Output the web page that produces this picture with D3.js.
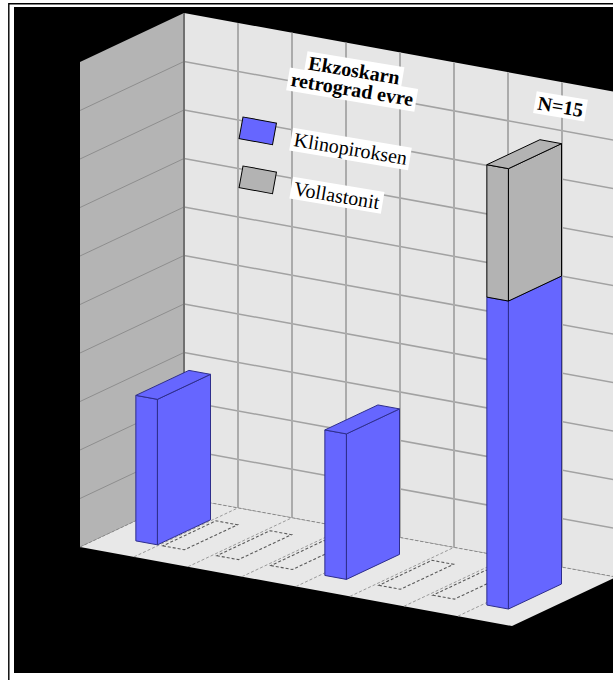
<!DOCTYPE html>
<html>
<head>
<meta charset="utf-8">
<script src="https://cdn.jsdelivr.net/npm/d3@7"></script>
<style>
  html, body { margin: 0; padding: 0; background: #fff; }
  svg { display: block; }
</style>
</head>
<body>
<script>
// ---- data -------------------------------------------------------------
// sample slots along the category axis; null = no sample, 0 = empty slot
const categories = d3.range(1, 17).map(String);
const klinopiroksen = [null, 30, 0, null, 0, null, 0, null, 30, null, 0, null, 0, null, 63.5, null];
const vollastonit   = [null, 0, 0, null, 0, null, 0, null, 0, null, 0, null, 0, null, 27.3, null];
const seriesNames = ["Klinopiroksen", "Vollastonit"];
const seriesColors = ["#6666ff", "#b3b3b3"];
const seriesEdges = ["#2e2e8c", "#000000"];
const yTicks = d3.range(0, 101, 10);
const titleLines = ["Ekzoskarn", "retrograd evre"];
const countLabel = "N=15";
const countIndex = 14;

// ---- layout -----------------------------------------------------------
const width = 613, height = 680;
const origin = [80, 547];          // front-left floor corner
const axisW = [432, 79];           // category direction
const axisD = [104, -49];          // depth direction
const wallHeight = 485;
const serif = "'Liberation Serif', 'Times New Roman', Times, serif";

const x = d3.scaleBand().domain(categories).range([0, 1])
  .paddingInner(0.2).paddingOuter(0.1).align(0.72);
const depth = d3.scaleBand().domain(["stack"]).range([0, 1])
  .paddingOuter(0.48).align(0.49);
const y = d3.scaleLinear().domain([0, 100]).range([0, wallHeight]);

// parallel projection: a along categories, b along depth, v value
function P(a, b, v) {
  return [origin[0] + a * axisW[0] + b * axisD[0],
          origin[1] + a * axisW[1] + b * axisD[1] - y(v)];
}
const line = d3.line();
const poly = pts => line(pts) + "Z";

const svg = d3.select("body").append("svg")
  .attr("width", width).attr("height", height);

// page frame and dark backdrop
svg.append("rect").attr("width", width).attr("height", height).attr("fill", "#fff");
svg.append("path").attr("d", "M8.8,680V3.8H613")
  .attr("fill", "none").attr("stroke", "#000").attr("stroke-width", 1.4);
svg.append("rect").attr("x", 14).attr("y", 7).attr("width", 599).attr("height", 666)
  .attr("fill", "#000");

const scene = svg.append("g");

// walls and floor
scene.append("path").attr("d", poly([P(0,0,0), P(0,1,0), P(0,1,100), P(0,0,100)]))
  .attr("fill", "#b4b4b4");
scene.append("path").attr("d", poly([P(0,1,0), P(1,1,0), P(1,1,100), P(0,1,100)]))
  .attr("fill", "#e6e6e6");
scene.append("path").attr("d", poly([P(0,0,0), P(1,0,0), P(1,1,0), P(0,1,0)]))
  .attr("fill", "#e8e8e8");

// value gridlines on both walls
const inner = yTicks.filter(t => t > 0 && t < 100);
scene.selectAll(".gb").data(inner).join("path")
  .attr("d", t => line([P(0,1,t), P(1,1,t)]))
  .attr("stroke", "#a2a2a2").attr("stroke-width", 1.5).attr("fill", "none");
scene.selectAll(".gs").data(inner).join("path")
  .attr("d", t => line([P(0,0,t), P(0,1,t)]))
  .attr("stroke", "#8e8e8e").attr("stroke-width", 1).attr("fill", "none");

// category gridlines every two slots
const gridA = d3.range(1, 8).map(k => x.step() * 2 * k);
scene.selectAll(".gv").data(gridA).join("path")
  .attr("d", a => line([P(a,1,0), P(a,1,100)]))
  .attr("stroke", "#ababab").attr("stroke-width", 2).attr("fill", "none");
scene.selectAll(".gf").data(gridA).join("path")
  .attr("d", a => line([P(a,0,0), P(a,1,0)]))
  .attr("stroke", "#9a9a9a").attr("stroke-width", 1).attr("stroke-dasharray", "3,2")
  .attr("fill", "none");
scene.append("path").attr("d", line([P(0,1,0), P(1,1,0)]))
  .attr("stroke", "#8a8a8a").attr("stroke-width", 1).attr("stroke-dasharray", "3,2").attr("fill", "none");
scene.append("path").attr("d", line([P(0,0,0), P(0,1,0)]))
  .attr("stroke", "#8a8a8a").attr("stroke-width", 1).attr("stroke-dasharray", "3,2").attr("fill", "none");
// wall corner
scene.append("path").attr("d", line([P(0,1,0), P(0,1,100)]))
  .attr("stroke", "#707070").attr("stroke-width", 2).attr("fill", "none");

// ---- texts with white backing boxes ------------------------------------
function label(g, txt, size, weight, anchor) {
  const t = g.append("text").text(txt)
    .attr("font-family", serif).attr("font-size", size).attr("font-weight", weight)
    .attr("text-anchor", anchor).attr("fill", "#000");
  const bb = t.node().getBBox();
  g.insert("rect", "text")
    .attr("x", bb.x - 3).attr("y", bb.y).attr("width", bb.width + 6).attr("height", bb.height)
    .attr("fill", "#fff");
  return t;
}
const rot = 9.5;
const titlePos = [[353, 77], [351, 96]];
titleLines.forEach((s, i) => {
  const g = svg.append("g").attr("transform", `translate(${titlePos[i]}) rotate(${rot})`);
  label(g, s, 20, "bold", "middle");
});

// legend
const legendY = [117, 166];
seriesNames.forEach((name, i) => {
  svg.append("rect")
    .attr("transform", `translate(243,${legendY[i]}) rotate(10.3)`)
    .attr("width", 34).attr("height", 22)
    .attr("fill", seriesColors[i]).attr("stroke", "#000").attr("stroke-width", 1);
  const g = svg.append("g").attr("transform", `translate(293,${legendY[i] + 29}) rotate(${rot})`);
  label(g, name, 20, "normal", "start");
});

// ---- bars ---------------------------------------------------------------
const rows = categories.map((c, i) => ({
  cat: c, Klinopiroksen: klinopiroksen[i], Vollastonit: vollastonit[i]
})).filter(d => d.Klinopiroksen != null);
const stacked = d3.stack().keys(seriesNames)(rows);
const b0 = depth("stack"), b1 = b0 + depth.bandwidth();

const barLayer = svg.append("g");
rows.forEach((row, ri) => {
  const a0 = x(row.cat), a1 = a0 + x.bandwidth();
  const total = row.Klinopiroksen + row.Vollastonit;
  const g = barLayer.append("g");
  if (total === 0) {
    g.append("path").attr("d", poly([P(a0,b0,0), P(a1,b0,0), P(a1,b1,0), P(a0,b1,0)]))
      .attr("fill", "none").attr("stroke", "#5a5a5a").attr("stroke-width", 1.1)
      .attr("stroke-dasharray", "3,2");
    return;
  }
  const segs = stacked.map((s, si) => ({ lo: s[ri][0], hi: s[ri][1], si }))
    .filter(s => s.hi > s.lo);
  segs.forEach((s, k) => {
    const faces = [
      [P(a0,b0,s.lo), P(a1,b0,s.lo), P(a1,b0,s.hi), P(a0,b0,s.hi)],
      [P(a1,b0,s.lo), P(a1,b1,s.lo), P(a1,b1,s.hi), P(a1,b0,s.hi)]
    ];
    if (k === segs.length - 1)
      faces.push([P(a0,b0,s.hi), P(a1,b0,s.hi), P(a1,b1,s.hi), P(a0,b1,s.hi)]);
    g.selectAll(null).data(faces).join("path")
      .attr("d", poly).attr("fill", seriesColors[s.si]).attr("stroke", seriesEdges[s.si])
      .attr("stroke-width", 1).attr("stroke-linejoin", "round");
  });
});

// sample count above the tallest stack
{
  const row = rows.find(r => r.cat === categories[countIndex]);
  const top = row.Klinopiroksen + row.Vollastonit;
  const a = x(row.cat) + x.bandwidth() * 0.9;
  const p = P(a, b1, top);
  const g = svg.append("g").attr("transform", `translate(${p[0]},${p[1] - 30}) rotate(${rot})`);
  label(g, countLabel, 20, "bold", "middle");
}
</script>
</body>
</html>
